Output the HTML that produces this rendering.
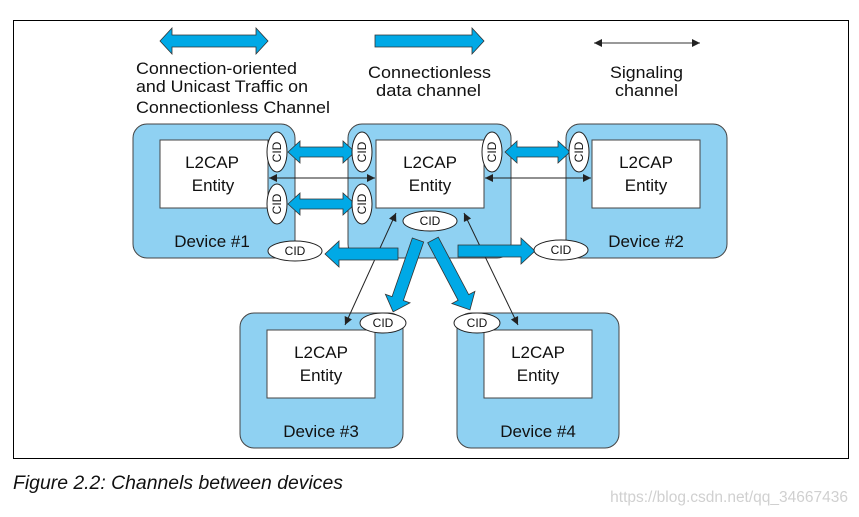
<!DOCTYPE html>
<html><head><meta charset="utf-8"><style>
body{margin:0;background:#fff}
svg{display:block;font-family:"Liberation Sans",Arial,sans-serif}
</style></head><body>
<svg width="859" height="517" viewBox="0 0 859 517">
<rect x="13.5" y="20.5" width="835" height="438" fill="#fff" stroke="#000" stroke-width="1"/>
<defs>
<marker id="ah" viewBox="0 0 10 10" refX="10" refY="5" markerWidth="10" markerHeight="8" markerUnits="userSpaceOnUse" orient="auto-start-reverse"><path d="M0,0 L10,5 L0,10 z" fill="#222"/></marker>
</defs>
<!-- legend -->
<polygon points="160,41 172,28 172,35 256,35 256,28 268,41 256,54 256,47 172,47 172,54" fill="#00a9e6" stroke="#333" stroke-width="0.8"/>
<polygon points="375,35 472,35 472,28 484,41 472,54 472,47 375,47" fill="#00a9e6" stroke="#333" stroke-width="0.8"/>
<line x1="594" y1="43" x2="700" y2="43" stroke="#333" stroke-width="1" marker-start="url(#ah)" marker-end="url(#ah)"/>
<g font-size="17" fill="#111">
<text x="136" y="74" textLength="161" lengthAdjust="spacingAndGlyphs">Connection-oriented</text>
<text x="136" y="92" textLength="172" lengthAdjust="spacingAndGlyphs">and Unicast Traffic on</text>
<text x="136" y="113" textLength="194" lengthAdjust="spacingAndGlyphs">Connectionless Channel</text>
<text x="368" y="78" textLength="123" lengthAdjust="spacingAndGlyphs">Connectionless</text>
<text x="376" y="96" textLength="105" lengthAdjust="spacingAndGlyphs">data channel</text>
<text x="610" y="78" textLength="73" lengthAdjust="spacingAndGlyphs">Signaling</text>
<text x="615" y="96" textLength="63" lengthAdjust="spacingAndGlyphs">channel</text>
</g>
<!-- devices -->
<g fill="#8fd1f2" stroke="#444" stroke-width="1">
<rect x="133" y="124" width="162" height="134" rx="14"/>
<rect x="348" y="124" width="163" height="134" rx="14"/>
<rect x="566" y="124" width="161" height="134" rx="14"/>
<rect x="240" y="313" width="163" height="135" rx="14"/>
<rect x="457" y="313" width="162" height="135" rx="14"/>
</g>
<g fill="#fff" stroke="#444" stroke-width="1">
<rect x="160" y="140" width="108" height="68"/>
<rect x="376" y="140" width="108" height="68"/>
<rect x="592" y="140" width="108" height="68"/>
<rect x="267" y="330" width="108" height="68"/>
<rect x="484" y="330" width="108" height="68"/>
</g>
<g font-size="17" fill="#111" text-anchor="middle">
<text x="212" y="168">L2CAP</text><text x="213" y="191">Entity</text>
<text x="430" y="168">L2CAP</text><text x="430" y="191">Entity</text>
<text x="646" y="168">L2CAP</text><text x="646" y="191">Entity</text>
<text x="321" y="358">L2CAP</text><text x="321" y="381">Entity</text>
<text x="538" y="358">L2CAP</text><text x="538" y="381">Entity</text>
<text x="212" y="247">Device #1</text>
<text x="646" y="247">Device #2</text>
<text x="321" y="437">Device #3</text>
<text x="538" y="437">Device #4</text>
</g>
<!-- signaling lines -->
<g stroke="#222" stroke-width="1">
<line x1="269" y1="178" x2="375" y2="178" marker-start="url(#ah)" marker-end="url(#ah)"/>
<line x1="485" y1="178" x2="591" y2="178" marker-start="url(#ah)" marker-end="url(#ah)"/>
<line x1="396" y1="213" x2="345" y2="325" marker-start="url(#ah)" marker-end="url(#ah)"/>
<line x1="464" y1="213" x2="518" y2="325" marker-start="url(#ah)" marker-end="url(#ah)"/>
</g>
<!-- blue arrows -->
<g fill="#00a9e6" stroke="#333" stroke-width="0.8">
<polygon points="288,152 300,141 300,147 343,147 343,141 355,152 343,163 343,157 300,157 300,163"/>
<polygon points="288,204 300,193 300,199 343,199 343,193 355,204 343,215 343,209 300,209 300,215"/>
<polygon points="505,152 517,141 517,147 558,147 558,141 570,152 558,163 558,157 517,157 517,163"/>
<g transform="translate(398,254) rotate(180)"><polygon points="0,-6 59,-6 59,-13 73,0 59,13 59,6 0,6"/></g>
<g transform="translate(458,251)"><polygon points="0,-6 63,-6 63,-13 77,0 63,13 63,6 0,6"/></g>
<g transform="translate(418,240) rotate(109.1)"><polygon points="0,-6 62,-6 62,-13 76,0 62,13 62,6 0,6"/></g>
<g transform="translate(433,240) rotate(62.1)"><polygon points="0,-6 65,-6 65,-13 79,0 65,13 65,6 0,6"/></g>
</g>
<!-- CIDs -->
<g fill="#fff" stroke="#222" stroke-width="1">
<ellipse cx="277" cy="152" rx="10" ry="20"/>
<ellipse cx="277" cy="204" rx="10" ry="20"/>
<ellipse cx="362" cy="152" rx="10" ry="20"/>
<ellipse cx="362" cy="204" rx="10" ry="20"/>
<ellipse cx="492" cy="152" rx="10" ry="20"/>
<ellipse cx="579" cy="152" rx="10" ry="20"/>
<ellipse cx="430" cy="221" rx="27" ry="10"/>
<ellipse cx="295" cy="251" rx="27" ry="10"/>
<ellipse cx="561" cy="250" rx="27" ry="10"/>
<ellipse cx="383" cy="323" rx="23" ry="10"/>
<ellipse cx="477" cy="323" rx="23" ry="10"/>
</g>
<g font-size="12" fill="#111" text-anchor="middle">
<text transform="translate(281,152) rotate(-90)">CID</text>
<text transform="translate(281,204) rotate(-90)">CID</text>
<text transform="translate(366,152) rotate(-90)">CID</text>
<text transform="translate(366,204) rotate(-90)">CID</text>
<text transform="translate(496,152) rotate(-90)">CID</text>
<text transform="translate(583,152) rotate(-90)">CID</text>
<text x="430" y="225">CID</text>
<text x="295" y="255">CID</text>
<text x="561" y="254">CID</text>
<text x="383" y="327">CID</text>
<text x="477" y="327">CID</text>
</g>
<text x="13" y="489" font-size="19" font-style="italic" fill="#111" textLength="330" lengthAdjust="spacingAndGlyphs">Figure 2.2:  Channels between devices</text>
<text x="848" y="502" font-size="15.5" fill="#d0d0d0" text-anchor="end">https://blog.csdn.net/qq_34667436</text>
</svg>
</body></html>
